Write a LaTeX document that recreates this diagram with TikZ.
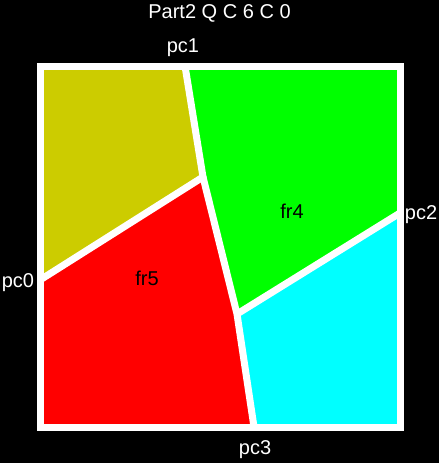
\documentclass[tikz,border=0pt]{standalone}
\usepackage{fontspec}
\setmainfont{Liberation Sans}
\definecolor{olive}{HTML}{CCCC00}
\definecolor{lime}{HTML}{00FF00}
\definecolor{aqua}{HTML}{00FFFF}
\usetikzlibrary{calc}

\begin{document}
\begin{tikzpicture}[x=1pt,y=-1pt,
    border/.style={white,line width=7pt},
    lbl/.style={anchor=base,inner sep=0pt,font=\fontsize{20}{24}\selectfont}]
    \fill[black] (0,0) rectangle (439,463);
    \useasboundingbox (0,0) rectangle (439,463);
    % corners and cut points
    \coordinate (nw) at (40,66);
    \coordinate (ne) at (400,66);
    \coordinate (se) at (400,427);
    \coordinate (sw) at (40,427);
    \coordinate (pc0) at (40,280);
    \coordinate (pc1) at (185,66);
    \coordinate (pc2) at (400,213);
    \coordinate (pc3) at (254,427);
    \coordinate (ja) at (203,177);
    \coordinate (jb) at (237,314);
    % faces
    \fill[olive] (nw) -- (pc1) -- (ja) -- (pc0) -- cycle;
    \fill[lime] (pc1) -- (ne) -- (pc2) -- (jb) -- (ja) -- cycle;
    \fill[red] (pc0) -- (ja) -- (jb) -- (pc3) -- (sw) -- cycle;
    \fill[aqua] (jb) -- (pc2) -- (se) -- (pc3) -- cycle;
    % edges
    \draw[border] (nw) rectangle (se);
    \draw[border] (pc1) -- (ja) -- (pc0);
    \draw[border] (ja) -- (jb) -- (pc3);
    \draw[border] (jb) -- (pc2);
    % labels
    \node[lbl,white] (title) at (219.5,19) {Part2 Q C 6 C 0};
    \node[lbl,white] (l1) at (183,52) {pc1};
    \node[lbl,white] (l2) at (421,219) {pc2};
    \node[lbl,white] (l0) at (18,287) {pc0};
    \node[lbl,white] (l3) at (255,454) {pc3};
    \node[lbl] (f4) at (292,218) {fr4};
    \node[lbl] (f5) at (147,285) {fr5};
\end{tikzpicture}
\end{document}
